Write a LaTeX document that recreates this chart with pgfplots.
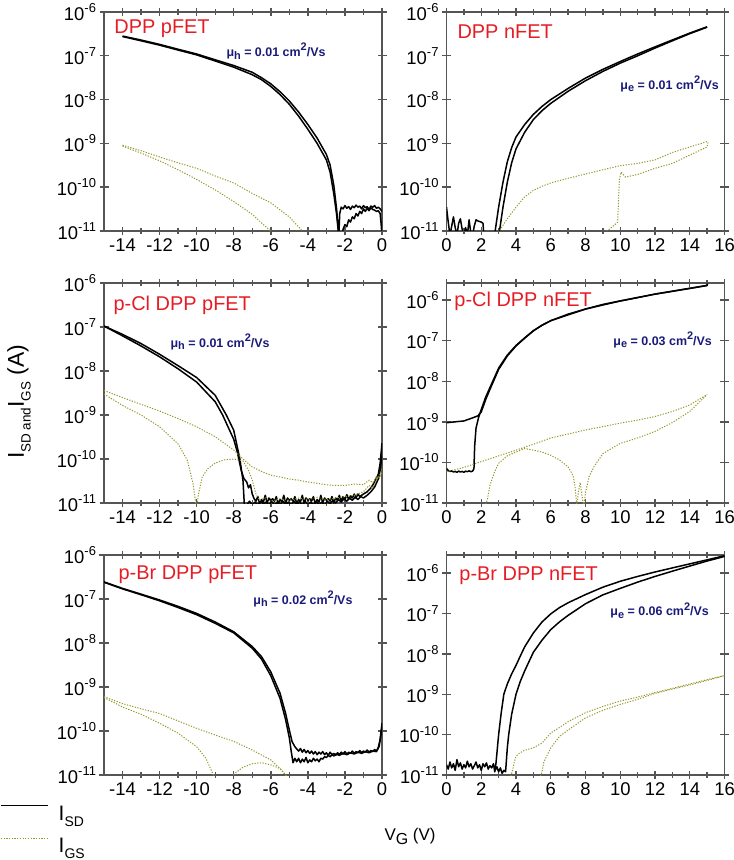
\documentclass[border=0pt]{standalone}
\usepackage{fontspec}
\setmainfont{Liberation Sans}
\usepackage{pgfplots}
\pgfplotsset{compat=1.18}
\definecolor{axgray}{RGB}{85,85,85}
\definecolor{ttlred}{RGB}{230,28,36}
\definecolor{munavy}{RGB}{26,26,122}
\definecolor{gsolive}{RGB}{150,150,40}
\newcommand{\tfont}{\fontsize{18.5}{20}\selectfont}
\newcommand{\ttl}[1]{\fontsize{20}{22}\selectfont\color{ttlred}#1}
\newcommand{\mob}[2]{{\fontsize{12.5}{14}\selectfont\bfseries\color{munavy}μ\raisebox{-0.35ex}{\fontsize{11}{12}\selectfont #1} = #2 cm\raisebox{0.9ex}{\fontsize{11}{12}\selectfont 2}/Vs}}
\newcommand{\legI}[1]{\fontsize{21}{22}\selectfont I\raisebox{-6bp}{\fontsize{14}{14}\selectfont #1}}
\pgfplotsset{
  every axis/.append style={
    scale only axis, width=278bp, height=220bp,
    ymode=log, log basis y=10,
    ymin=1e-11, ymax=1e-6,
    ytick={1e-11,1e-10,1e-9,1e-8,1e-7,1e-6},
    yminorticks=false,
    minor x tick num=1,
    axis line style={axgray, line width=1.6bp},
    tick style={axgray, line width=1.4bp},
    major tick length=9bp, minor tick length=6bp,
    tick align=center,
    yticklabel={\tfont 10\raisebox{0.8ex}{\fontsize{13}{13}\selectfont\pgfmathparse{int(round(\tick))}\pgfmathresult}},
    xticklabel={\tfont\pgfmathparse{int(round(\tick))}\pgfmathresult},
    enlargelimits=false,
    anchor=south west,
  },
  xleftrange/.style={xmin=-15, xmax=0, xtick={-14,-12,-10,-8,-6,-4,-2,0}},
  xrightrange/.style={xmin=0, xmax=16, xtick={0,2,4,6,8,10,12,14,16}},
  isd/.style={black, line width=1.5bp, line join=round, no marks},
  igs/.style={gsolive, line width=1bp, dash pattern=on 1.2bp off 1.5bp, no marks},
}
\begin{document}
\begin{tikzpicture}
\path[use as bounding box] (0bp,0bp) rectangle (734bp,860bp);

% ---------- A: DPP pFET ----------
\begin{axis}[xleftrange, at={(104bp,629bp)}, height=219bp]
\addplot[isd] coordinates {(-14,2.82e-7) (-13,2.29e-7) (-12,1.82e-7) (-11,1.41e-7) (-10,1.10e-7) (-9,8.1e-8) (-8,6.0e-8) (-7,4.2e-8) (-6.5,3.16e-8) (-6,2.29e-8) (-5.5,1.51e-8) (-5,9.3e-9) (-4.5,5.2e-9) (-4,2.7e-9) (-3.5,1.32e-9) (-3,5.6e-10) (-2.8,3.2e-10) (-2.6,1.1e-10) (-2.45,3.2e-11) (-2.33,8e-12) (-2.28,2.5e-11) (-2.2,3.5e-11) (-2.1,3.2e-11) (-2.0,3.8e-11) (-1.9,3.3e-11) (-1.8,3.6e-11) (-1.7,3.1e-11) (-1.6,3.7e-11) (-1.5,3.4e-11) (-1.4,3.9e-11) (-1.3,3.5e-11) (-1.2,3.7e-11) (-1.1,3.2e-11) (-1.0,3.8e-11) (-0.9,3.4e-11) (-0.8,3.6e-11) (-0.7,3.1e-11) (-0.6,3.7e-11) (-0.5,3.5e-11) (-0.4,3.8e-11) (-0.3,3.3e-11) (-0.2,3.5e-11) (-0.1,3.2e-11) (0,2.8e-11)};
\addplot[isd] coordinates {(-14,2.75e-7) (-13,2.2e-7) (-12,1.75e-7) (-11,1.35e-7) (-10,1.05e-7) (-9,7.6e-8) (-8,5.5e-8) (-7,3.7e-8) (-6.5,2.85e-8) (-6,2.0e-8) (-5.5,1.3e-8) (-5,7.8e-9) (-4.5,4.2e-9) (-4,2.1e-9) (-3.5,1.0e-9) (-3,4.2e-10) (-2.8,2.2e-10) (-2.6,7e-11) (-2.45,2.4e-11) (-2.35,9e-12) (-2.25,8e-12) (-2.15,8e-12) (-2.1,1.1e-11) (-2.0,1.4e-11) (-1.9,1.25e-11) (-1.8,1.8e-11) (-1.7,1.6e-11) (-1.6,2.1e-11) (-1.5,1.9e-11) (-1.4,2.5e-11) (-1.3,2.2e-11) (-1.2,2.8e-11) (-1.1,2.5e-11) (-1.0,3.2e-11) (-0.9,2.8e-11) (-0.8,3.3e-11) (-0.7,2.9e-11) (-0.6,3.4e-11) (-0.5,3.1e-11) (-0.4,3.0e-11) (-0.3,2.8e-11) (-0.2,2.9e-11) (-0.1,2.5e-11) (-0.05,1.5e-11) (0,8e-12)};
\addplot[igs] coordinates {(-14,9.1e-10) (-13,6.8e-10) (-12,4.9e-10) (-11,3.6e-10) (-10,2.7e-10) (-9,1.8e-10) (-8,1.25e-10) (-7,7.2e-11) (-6,4.4e-11) (-5,2.1e-11) (-4.3,1e-11) (-4.1,6e-12)};
\addplot[igs] coordinates {(-14,8.7e-10) (-13,6.0e-10) (-12,4.0e-10) (-11,2.5e-10) (-10,1.5e-10) (-9,8.7e-11) (-8,4.7e-11) (-7,2.4e-11) (-6.4,1.4e-11) (-6.0,1e-11) (-5.9,7e-12)};
\node[anchor=base west] at (axis description cs:0.025,0.90) {\ttl{DPP pFET}};
\node[anchor=base west] at (axis description cs:0.428,0.795) {\mob{h}{0.01}};
\end{axis}

% ---------- B: DPP nFET ----------
\begin{axis}[xrightrange, at={(446.5bp,629bp)}, height=219bp]
\addplot[isd] coordinates {(0,3.5e-11) (0.1,1.6e-11) (0.2,8e-12) (0.3,1.3e-11) (0.4,2.1e-11) (0.5,1.2e-11) (0.6,8e-12) (0.7,1.5e-11) (0.8,1.9e-11) (0.9,1.1e-11) (1.0,8e-12) (1.1,1.2e-11) (1.2,8e-12) (1.3,1.8e-11) (1.4,9e-12) (1.5,8e-12) (1.6,1.3e-11) (1.7,1.8e-11) (1.8,1.7e-11) (2.0,1.6e-11) (2.1,1.5e-11) (2.15,8e-12) (2.7,8e-12) (2.8,1e-11) (3.0,3.5e-11) (3.25,1.3e-10) (3.5,3.8e-10) (3.75,8e-10) (4,1.4e-9) (4.5,2.7e-9) (5,4.6e-9) (5.5,7.0e-9) (6,1.0e-8) (7,1.8e-8) (8,3.1e-8) (9,4.9e-8) (10,7.4e-8) (11,1.1e-7) (12,1.6e-7) (13,2.3e-7) (14,3.3e-7) (15,4.6e-7)};
\addplot[isd] coordinates {(2.9,8e-12) (3.05,1e-11) (3.25,3.5e-11) (3.5,1.3e-10) (3.75,3.6e-10) (4,7.5e-10) (4.5,1.8e-9) (5,3.5e-9) (5.5,5.6e-9) (6,8.2e-9) (7,1.55e-8) (8,2.7e-8) (9,4.4e-8) (10,6.8e-8) (11,1.0e-7) (12,1.5e-7) (13,2.2e-7) (14,3.2e-7) (15,4.5e-7)};
\addplot[igs] coordinates {(2.95,8e-12) (3.1,1.1e-11) (3.5,1.9e-11) (4,3.5e-11) (4.5,6e-11) (5,8.5e-11) (5.5,1.05e-10) (6,1.25e-10) (7,1.6e-10) (8,2.0e-10) (9,2.5e-10) (10,3.1e-10) (11,3.5e-10) (12,4.2e-10) (13,6.2e-10) (14,8.3e-10) (15,1.1e-9)};
\addplot[igs] coordinates {(9.0,8e-12) (9.3,1.05e-11) (9.7,1.4e-11) (9.85,1.6e-11) (9.95,1.5e-10) (10.05,2.2e-10) (10.3,1.7e-10) (11,1.95e-10) (12,2.7e-10) (13,3.5e-10) (14,5.4e-10) (15,8.3e-10) (15.05,1.05e-9)};
\node[anchor=base west] at (axis description cs:0.027,0.877) {\ttl{DPP nFET}};
\node[anchor=base west] at (axis description cs:0.613,0.648) {\mob{e}{0.01}};
\end{axis}

% ---------- C: p-Cl DPP pFET ----------
\begin{axis}[xleftrange, at={(104bp,357bp)}]
\addplot[isd] coordinates {(-15,1.05e-7) (-14,6.3e-8) (-13,3.7e-8) (-12,2.1e-8) (-11,1.12e-8) (-10,5.6e-9) (-9,2.0e-9) (-8.6,1.0e-9) (-8,2.8e-10) (-7.8,1.4e-10) (-7.6,5.6e-11) (-7.45,3.6e-11) (-7.3,3.0e-11) (-7.2,2.2e-11) (-7.1,2.6e-11) (-7.0,1.6e-11) (-6.9,1.25e-11) (-6.8,1.1e-11) (-6.7,1.4e-11) (-6.6,9.5e-12) (-6.5,1.2e-11) (-6.4,1.05e-11) (-6.3,1.5e-11) (-6.2,1.0e-11) (-6.1,1.3e-11) (-6.0,1.15e-11) (-5.9,1.25e-11) (-5.8,1.1e-11) (-5.7,1.4e-11) (-5.6,9.5e-12) (-5.5,1.2e-11) (-5.4,1.05e-11) (-5.3,1.5e-11) (-5.2,1.0e-11) (-5.1,1.3e-11) (-5.0,1.15e-11) (-4.9,1.25e-11) (-4.8,1.1e-11) (-4.7,1.4e-11) (-4.6,9.5e-12) (-4.5,1.2e-11) (-4.4,1.05e-11) (-4.3,1.5e-11) (-4.2,1.0e-11) (-4.1,1.3e-11) (-4.0,1.15e-11) (-3.9,1.25e-11) (-3.8,1.1e-11) (-3.7,1.4e-11) (-3.6,9.5e-12) (-3.5,1.2e-11) (-3.4,1.05e-11) (-3.3,1.5e-11) (-3.2,1.0e-11) (-3.1,1.3e-11) (-3.0,1.15e-11) (-2.9,1.25e-11) (-2.8,1.1e-11) (-2.7,1.4e-11) (-2.6,1.0e-11) (-2.5,1.3e-11) (-2.4,1.15e-11) (-2.3,1.5e-11) (-2.2,1.1e-11) (-2.1,1.4e-11) (-2.0,1.2e-11) (-1.9,1.55e-11) (-1.8,1.2e-11) (-1.7,1.45e-11) (-1.6,1.3e-11) (-1.5,1.6e-11) (-1.4,1.3e-11) (-1.3,1.6e-11) (-1.2,1.4e-11) (-1.0,1.6e-11) (-0.8,1.8e-11) (-0.6,2.2e-11) (-0.4,3e-11) (-0.2,4.5e-11) (-0.1,8e-11) (0,2.3e-10)};
\addplot[isd] coordinates {(-15,1.05e-7) (-14,6.8e-8) (-13,4.2e-8) (-12,2.4e-8) (-11,1.32e-8) (-10,7.1e-9) (-9,2.8e-9) (-8.4,1.0e-9) (-8,4.5e-10) (-7.67,1.0e-10) (-7.5,3.2e-11) (-7.42,8e-12) (-7.3,9e-12) (-7.15,1.1e-11) (-7.0,9e-12) (-6.85,1.05e-11) (-6.7,9e-12) (-6.55,1.1e-11) (-6.4,9.5e-12) (-6.25,1.05e-11) (-6.1,9e-12) (-5.95,1.1e-11) (-5.8,9e-12) (-5.65,1.05e-11) (-5.5,9e-12) (-5.35,1.1e-11) (-5.2,9e-12) (-5.05,1.05e-11) (-4.9,9e-12) (-4.75,1.1e-11) (-4.6,9e-12) (-4.45,1.05e-11) (-4.3,9e-12) (-4.15,1.1e-11) (-4.0,9e-12) (-3.85,1.05e-11) (-3.7,9e-12) (-3.55,1.1e-11) (-3.4,9e-12) (-3.25,1.05e-11) (-3.1,9e-12) (-2.95,1.1e-11) (-2.8,9.5e-12) (-2.65,1.15e-11) (-2.5,1.0e-11) (-2.35,1.2e-11) (-2.2,1.05e-11) (-2.05,1.25e-11) (-1.9,1.1e-11) (-1.75,1.3e-11) (-1.6,1.15e-11) (-1.45,1.35e-11) (-1.3,1.2e-11) (-1.15,1.4e-11) (-1.0,1.3e-11) (-0.8,1.5e-11) (-0.6,1.8e-11) (-0.4,2.3e-11) (-0.2,3.5e-11) (-0.1,5.5e-11) (0,1.2e-10)};
\addplot[igs] coordinates {(-15,3.6e-9) (-14,2.5e-9) (-13,1.75e-9) (-12,1.23e-9) (-11,8.3e-10) (-10,5.4e-10) (-9,3.2e-10) (-8,1.6e-10) (-7.5,1.0e-10) (-7,6.6e-11) (-6.5,5.2e-11) (-6,4.3e-11) (-5.5,3.9e-11) (-5,3.5e-11) (-4.5,3.3e-11) (-4,3.0e-11) (-3.5,2.8e-11) (-3,2.6e-11) (-2.5,2.5e-11) (-2,2.5e-11) (-1.5,2.7e-11) (-1,2.6e-11) (-0.7,3.3e-11) (-0.5,2.9e-11) (-0.3,4e-11) (-0.15,3.5e-11) (0,5e-11)};
\addplot[igs] coordinates {(-15,3.0e-9) (-14,1.65e-9) (-13,1.0e-9) (-12,5.4e-10) (-11,2.2e-10) (-10.5,9.3e-11) (-10.2,2.8e-11) (-10.05,1e-11) (-10.0,8e-12) (-9.9,1.6e-11) (-9.7,3.9e-11) (-9.4,6e-11) (-9,8.1e-11) (-8.5,9.6e-11) (-8,1.0e-10) (-7.5,9e-11) (-7.2,5.5e-11) (-7,3.3e-11) (-6.8,1.6e-11) (-6.6,1.15e-11) (-6.3,1.3e-11) (-6,1.1e-11) (-5.5,1.25e-11) (-5,1.15e-11) (-4.5,1.3e-11) (-4,1.2e-11) (-3.5,1.35e-11) (-3,1.2e-11) (-2.5,1.3e-11) (-2,1.4e-11) (-1.5,1.5e-11) (-1,1.8e-11) (-0.7,2.5e-11) (-0.5,2.2e-11) (-0.3,3.5e-11) (-0.1,4.5e-11) (0,6e-11)};
\node[anchor=base west] at (axis description cs:0.022,0.877) {\ttl{p-Cl DPP pFET}};
\node[anchor=base west] at (axis description cs:0.227,0.709) {\mob{h}{0.01}};
\end{axis}

% ---------- D: p-Cl DPP nFET ----------
\begin{axis}[xrightrange, at={(446.5bp,357bp)}, ymax=2.63e-6]
\addplot[isd] coordinates {(0,9.5e-10) (0.5,1.0e-9) (1.0,1.05e-9) (1.5,1.25e-9) (1.8,1.4e-9) (2.0,1.75e-9) (2.25,3.5e-9) (2.5,6.3e-9) (3,1.95e-8) (3.5,4.2e-8) (4,7.4e-8) (4.5,1.15e-7) (5,1.74e-7) (5.5,2.4e-7) (6,3.1e-7) (7,4.5e-7) (8,6.0e-7) (9,7.8e-7) (10,9.5e-7) (11,1.15e-6) (12,1.4e-6) (13,1.65e-6) (14,1.95e-6) (15,2.3e-6) (15.02,2.55e-6)};
\addplot[isd] coordinates {(0,7.1e-11) (0.1,6.3e-11) (0.2,6.0e-11) (0.3,6.2e-11) (0.4,5.8e-11) (0.5,6.0e-11) (0.6,5.7e-11) (0.7,6.1e-11) (0.8,5.8e-11) (0.9,6.0e-11) (1.0,5.7e-11) (1.1,6.1e-11) (1.2,5.9e-11) (1.3,6.2e-11) (1.4,5.9e-11) (1.5,6.1e-11) (1.58,7e-11) (1.62,2.5e-10) (1.7,7e-10) (1.85,1.3e-9) (2.0,2.0e-9) (2.25,4e-9) (2.5,7e-9) (3,2.1e-8) (3.5,4.4e-8) (4,7.6e-8) (4.5,1.17e-7) (5,1.76e-7) (5.5,2.4e-7) (6,3.1e-7) (8,6.0e-7) (10,9.5e-7) (12,1.4e-6) (14,1.93e-6) (15,2.28e-6)};
\addplot[igs] coordinates {(0,5.9e-11) (1,7.5e-11) (2,1.05e-10) (3,1.45e-10) (4,2.0e-10) (5,2.8e-10) (6,4.0e-10) (7,5.0e-10) (8,6.3e-10) (9,7.6e-10) (10,9.3e-10) (11,1.1e-9) (12,1.35e-9) (13,1.8e-9) (14,2.6e-9) (15,4.7e-9)};
\addplot[igs] coordinates {(2.2,8e-12) (2.35,1.2e-11) (2.5,2.7e-11) (2.75,5.6e-11) (3,9.5e-11) (3.5,1.45e-10) (4,1.8e-10) (4.5,2.2e-10) (5,2.0e-10) (5.5,1.8e-10) (6,1.5e-10) (6.5,1.15e-10) (7,7.7e-11) (7.2,5.5e-11) (7.3,4.4e-11) (7.4,2.5e-11) (7.5,8e-12) (7.6,2e-11) (7.7,3.2e-11) (7.8,1.5e-11) (7.9,8e-12) (8.0,1.8e-11) (8.2,4.4e-11) (8.5,8e-11) (9,1.65e-10) (10,2.95e-10) (11,4.0e-10) (12,5.8e-10) (13,9.6e-10) (14,1.8e-9) (15,4.7e-9)};
\node[anchor=base west] at (axis description cs:0.016,0.895) {\ttl{p-Cl DPP nFET}};
\node[anchor=base west] at (axis description cs:0.588,0.718) {\mob{e}{0.03}};
\end{axis}

% ---------- E: p-Br DPP pFET ----------
\begin{axis}[xleftrange, at={(104bp,85bp)},
  legend style={draw=none, fill=none, inner sep=0pt, at={(axis description cs:-0.374,-0.135)}, anchor=north west, row sep=16bp, nodes={inner sep=0pt}, /tikz/every odd column/.append style={column sep=10bp}},
  legend cell align=left,
  legend image code/.code={\draw[#1] (0bp,8bp) -- (47bp,8bp);}]
\addplot[isd] coordinates {(-15,2.45e-7) (-14,1.74e-7) (-13,1.29e-7) (-12,9.5e-8) (-11,6.8e-8) (-10,4.7e-8) (-9,3.0e-8) (-8,1.8e-8) (-7,8.3e-9) (-6.5,4.9e-9) (-6,2.2e-9) (-5.5,7.2e-10) (-5.2,2.5e-10) (-5,1.05e-10) (-4.85,5.7e-11) (-4.7,4.4e-11) (-4.6,3.9e-11) (-4.5,3.5e-11) (-4.4,4.0e-11) (-4.3,3.3e-11) (-4.2,3.8e-11) (-4.1,3.2e-11) (-4.0,3.6e-11) (-3.9,3.1e-11) (-3.8,3.5e-11) (-3.7,3.0e-11) (-3.6,3.4e-11) (-3.5,2.9e-11) (-3.4,3.3e-11) (-3.3,3.0e-11) (-3.2,3.4e-11) (-3.1,2.9e-11) (-3.0,3.2e-11) (-2.9,2.8e-11) (-2.8,3.3e-11) (-2.7,2.9e-11) (-2.6,3.1e-11) (-2.5,2.8e-11) (-2.4,3.2e-11) (-2.3,2.9e-11) (-2.2,3.3e-11) (-2.1,3.0e-11) (-2.0,3.4e-11) (-1.9,3.0e-11) (-1.8,3.3e-11) (-1.7,3.1e-11) (-1.6,3.5e-11) (-1.5,3.1e-11) (-1.4,3.4e-11) (-1.3,3.2e-11) (-1.2,3.6e-11) (-1.1,3.2e-11) (-1.0,3.5e-11) (-0.9,3.3e-11) (-0.8,3.7e-11) (-0.7,3.3e-11) (-0.6,3.6e-11) (-0.5,3.4e-11) (-0.4,3.8e-11) (-0.3,3.5e-11) (-0.2,4.2e-11) (-0.1,6.5e-11) (0,1.5e-10)};
\addlegendentry{\legI{SD}}
\addplot[igs] coordinates {(-15,6.0e-10) (-14,4.2e-10) (-13,3.2e-10) (-12,2.5e-10) (-11,1.7e-10) (-10,1.15e-10) (-9,8.1e-11) (-8,5.8e-11) (-7,3.7e-11) (-6,2.2e-11) (-5.5,1.4e-11) (-5.2,1e-11) (-5.1,8e-12)};
\addlegendentry{\legI{GS}}
\addplot[isd, forget plot] coordinates {(-15,2.4e-7) (-14,1.7e-7) (-13,1.25e-7) (-12,9.1e-8) (-11,6.4e-8) (-10,4.4e-8) (-9,2.8e-8) (-8,1.7e-8) (-7,7.6e-9) (-6.5,4.3e-9) (-6,1.8e-9) (-5.5,5.5e-10) (-5.2,1.8e-10) (-5,7e-11) (-4.9,3.5e-11) (-4.8,1.9e-11) (-4.7,2.4e-11) (-4.6,2.0e-11) (-4.5,2.4e-11) (-4.4,1.9e-11) (-4.3,2.3e-11) (-4.2,2.0e-11) (-4.1,2.5e-11) (-4.0,1.9e-11) (-3.9,2.2e-11) (-3.8,2.0e-11) (-3.7,2.4e-11) (-3.6,2.1e-11) (-3.5,2.3e-11) (-3.4,2.0e-11) (-3.3,2.4e-11) (-3.2,2.3e-11) (-3.1,2.6e-11) (-3.0,2.5e-11) (-2.9,2.8e-11) (-2.8,2.6e-11) (-2.7,2.9e-11) (-2.6,2.7e-11) (-2.5,3.0e-11) (-2.3,2.8e-11) (-2.1,3.1e-11) (-1.9,2.9e-11) (-1.7,3.2e-11) (-1.5,3.0e-11) (-1.3,3.3e-11) (-1.1,3.1e-11) (-0.9,3.4e-11) (-0.7,3.2e-11) (-0.5,3.5e-11) (-0.3,3.4e-11) (-0.15,4.5e-11) (0,1.2e-10)};
\addplot[igs, forget plot] coordinates {(-15,5.8e-10) (-14,3.5e-10) (-13,2.4e-10) (-12,1.5e-10) (-11,8.9e-11) (-10,4.4e-11) (-9.5,2.4e-11) (-9.1,1e-11) (-9.0,8e-12) (-8.1,8e-12) (-8,1.05e-11) (-7.5,1.5e-11) (-7,1.8e-11) (-6.5,1.9e-11) (-6,1.7e-11) (-5.5,1.4e-11) (-5.2,1e-11) (-5.0,8e-12)};
\node[anchor=base west] at (axis description cs:0.04,0.89) {\ttl{p-Br DPP pFET}};
\node[anchor=base west] at (axis description cs:0.525,0.777) {\mob{h}{0.02}};
\end{axis}

% ---------- F: p-Br DPP nFET ----------
\begin{axis}[xrightrange, at={(446.5bp,85bp)}, ymax=2.82e-6]
\addplot[isd] coordinates {(0,1.8e-11) (0.1,1.4e-11) (0.2,2.1e-11) (0.3,1.5e-11) (0.4,1.9e-11) (0.5,1.3e-11) (0.6,2.4e-11) (0.7,1.6e-11) (0.8,2.0e-11) (0.9,1.4e-11) (1.0,1.8e-11) (1.1,1.5e-11) (1.2,2.2e-11) (1.3,1.6e-11) (1.4,1.9e-11) (1.5,1.4e-11) (1.6,1.7e-11) (1.7,2.1e-11) (1.8,1.5e-11) (1.9,1.8e-11) (2.0,1.3e-11) (2.1,1.9e-11) (2.2,1.6e-11) (2.3,2.0e-11) (2.4,1.4e-11) (2.5,1.7e-11) (2.6,1.5e-11) (2.7,1.9e-11) (2.78,1.2e-11) (2.85,2e-11) (3.0,1e-10) (3.15,3.5e-10) (3.3,1e-9) (3.5,1.8e-9) (3.75,3.2e-9) (4.0,5.2e-9) (4.25,8.9e-9) (4.5,1.5e-8) (5,3.3e-8) (5.5,6.2e-8) (6,9.8e-8) (6.5,1.4e-7) (7,1.85e-7) (8,2.95e-7) (9,4.5e-7) (10,6.3e-7) (11,8.3e-7) (12,1.07e-6) (13,1.35e-6) (14,1.7e-6) (15,2.14e-6) (16,2.7e-6)};
\addplot[isd] coordinates {(2.8,1.3e-11) (2.9,1.6e-11) (3.0,1.2e-11) (3.1,1.5e-11) (3.2,1.1e-11) (3.3,1.3e-11) (3.4,1.2e-11) (3.5,4.7e-11) (3.58,1e-10) (3.75,3.2e-10) (4.0,1e-9) (4.25,2.1e-9) (4.5,3.8e-9) (5,1.1e-8) (5.5,2.2e-8) (6,4.0e-8) (6.5,6.2e-8) (7,9.0e-8) (8,1.75e-7) (9,2.9e-7) (10,4.2e-7) (11,6.0e-7) (12,8.3e-7) (13,1.12e-6) (14,1.5e-6) (15,2.0e-6) (16,2.6e-6)};
\addplot[igs] coordinates {(3.65,8e-12) (3.8,1.3e-11) (3.9,2.1e-11) (4.0,2.9e-11) (4.2,3.5e-11) (4.5,4.1e-11) (5,4.7e-11) (5.5,6.2e-11) (6,1.1e-10) (6.5,1.5e-10) (7,2.1e-10) (8,3.5e-10) (9,5e-10) (10,6.8e-10) (11,8.5e-10) (12,1.1e-9) (13,1.4e-9) (14,1.8e-9) (15,2.3e-9) (16,2.9e-9)};
\addplot[igs] coordinates {(5.35,8e-12) (5.5,1.2e-11) (5.6,2.1e-11) (6,4.7e-11) (6.5,9e-11) (7,1.3e-10) (8,2.6e-10) (9,4.0e-10) (10,5.6e-10) (11,7.5e-10) (12,1.05e-9) (13,1.35e-9) (14,1.7e-9) (15,2.2e-9) (16,2.9e-9)};
\node[anchor=base west] at (axis description cs:0.034,0.886) {\ttl{p-Br DPP nFET}};
\node[anchor=base west] at (axis description cs:0.577,0.723) {\mob{e}{0.06}};
\end{axis}

% axis titles
\node[rotate=90, anchor=center] at (19bp,458bp) {\fontsize{23}{25}\selectfont I\raisebox{-6.7bp}{\fontsize{13.5}{14}\selectfont SD and}I\raisebox{-6.7bp}{\fontsize{13.5}{14}\selectfont GS} (A)};
\node[anchor=center] at (410bp,24bp) {\fontsize{17}{19}\selectfont V\raisebox{-4bp}{\fontsize{16}{17}\selectfont G} (V)};
\end{tikzpicture}
\end{document}
